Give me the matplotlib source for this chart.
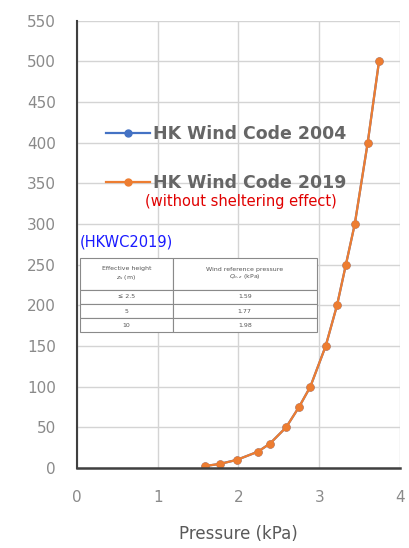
import matplotlib
matplotlib.use("Agg")
import matplotlib.pyplot as plt

# heights (m) vs reference pressure (kPa)
heights = [2.5, 5, 10, 20, 30, 50, 75, 100, 150, 200, 250, 300, 400, 500]
press_2019 = [1.59, 1.77, 1.98, 2.24, 2.39, 2.59, 2.75, 2.89, 3.08, 3.22, 3.33, 3.44, 3.60, 3.74]
press_2004 = [1.59, 1.77, 1.98, 2.24, 2.39, 2.59, 2.75, 2.89, 3.08, 3.22, 3.33, 3.44, 3.60, 3.74]

x_ticks = [0, 1, 2, 3, 4]
y_ticks = list(range(0, 551, 50))

table_header = ["Effective height\n$z_s$ (m)", "Wind reference pressure\n$Q_{o,z}$ (kPa)"]
table_z = ["\u2264 2.5", "5", "10"]
table_q = ["1.59", "1.77", "1.98"]

orange = "#ED7D31"
blue = "#4472C4"
gray_txt = "#8a8a8a"

fig = plt.figure(figsize=(4.09, 5.48), dpi=100)
ax = fig.add_axes([0.188, 0.146, 0.79, 0.816])

ax.plot(press_2004, heights, color=blue, marker="o", markersize=5, lw=1.6, label="HK Wind Code 2004")
ax.plot(press_2019, heights, color=orange, marker="o", markersize=5, lw=1.6, label="HK Wind Code 2019")

ax.set_xlim(0, 4)
ax.set_ylim(0, 550)
ax.set_xticks(x_ticks)
ax.set_yticks(y_ticks)
ax.grid(True, color="#d4d4d4", lw=1.0)
ax.set_axisbelow(True)
ax.tick_params(length=0, labelsize=11, colors=gray_txt)
ax.tick_params(axis="x", pad=16)
ax.tick_params(axis="y", pad=15)
for s in ["top", "right"]:
    ax.spines[s].set_visible(False)
ax.spines["left"].set_color("#404040")
ax.spines["left"].set_linewidth(1.5)
ax.spines["bottom"].set_color("#404040")
ax.spines["bottom"].set_linewidth(1.8)
ax.set_xlabel("Pressure (kPa)", fontsize=12, color="#595959", labelpad=14)

leg = ax.legend(loc="upper left", bbox_to_anchor=(0.222, 0.80), bbox_transform=fig.transFigure,
                frameon=False, handlelength=2.5, handletextpad=0.2, labelspacing=1.8,
                prop={"size": 12.5, "weight": "bold"})
for t in leg.get_texts():
    t.set_color("#666666")

fig.text(0.355, 0.633, "(without sheltering effect)", color="#e00000", fontsize=10.5, va="center")
fig.text(0.196, 0.558, "(HKWC2019)", color="#1a1aff", fontsize=10.5, va="center")

# inset table
tax = fig.add_axes([0.196, 0.394, 0.579, 0.135])
tax.axis("off")
cells = [table_header] + [[z, q] for z, q in zip(table_z, table_q)]
tbl = tax.table(cellText=cells, cellLoc="center", bbox=[0, 0, 1, 1], colWidths=[0.39, 0.61])
tbl.auto_set_font_size(False)
row_h = [0.43, 0.19, 0.19, 0.19]
for (r, c), cell in tbl.get_celld().items():
    cell.set_height(row_h[r])
    cell.set_edgecolor("#8a8a8a")
    cell.set_linewidth(0.8)
    cell.set_facecolor("white")
    cell.get_text().set_fontsize(4.5)
    cell.get_text().set_color("#555555")

fig.savefig("out.png", dpi=100)
